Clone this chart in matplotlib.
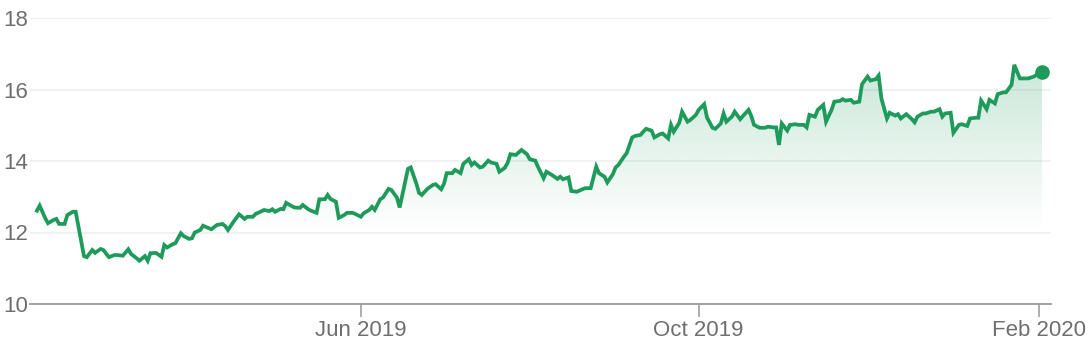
import numpy as np
import pandas as pd
import matplotlib
matplotlib.use('Agg')
import matplotlib.pyplot as plt
import matplotlib.dates as mdates
from matplotlib.colors import to_rgb

# odectene hodnoty z grafu
datumy = [
    '2019-02-04', '2019-02-05', '2019-02-07', '2019-02-08', '2019-02-10', '2019-02-11', '2019-02-12',
    '2019-02-14', '2019-02-15', '2019-02-17', '2019-02-18', '2019-02-21', '2019-02-22', '2019-02-24',
    '2019-02-25', '2019-02-27', '2019-02-28', '2019-03-02', '2019-03-04', '2019-03-05', '2019-03-07',
    '2019-03-09', '2019-03-10', '2019-03-12', '2019-03-13', '2019-03-15', '2019-03-16', '2019-03-17',
    '2019-03-19', '2019-03-21', '2019-03-22', '2019-03-23', '2019-03-25', '2019-03-26', '2019-03-28',
    '2019-03-29', '2019-03-31', '2019-04-01', '2019-04-02', '2019-04-04', '2019-04-05', '2019-04-08',
    '2019-04-10', '2019-04-12', '2019-04-13', '2019-04-14', '2019-04-16', '2019-04-18', '2019-04-20',
    '2019-04-21', '2019-04-23', '2019-04-24', '2019-04-26', '2019-04-27', '2019-04-29', '2019-04-30',
    '2019-05-01', '2019-05-03', '2019-05-04', '2019-05-05', '2019-05-07', '2019-05-08', '2019-05-10',
    '2019-05-11', '2019-05-13', '2019-05-14', '2019-05-16', '2019-05-17', '2019-05-19', '2019-05-20',
    '2019-05-21', '2019-05-23', '2019-05-24', '2019-05-26', '2019-05-27', '2019-05-29', '2019-05-30',
    '2019-06-01', '2019-06-02', '2019-06-04', '2019-06-05', '2019-06-06', '2019-06-08', '2019-06-09',
    '2019-06-11', '2019-06-12', '2019-06-14', '2019-06-15', '2019-06-18', '2019-06-19', '2019-06-21',
    '2019-06-22', '2019-06-23', '2019-06-25', '2019-06-27', '2019-06-28', '2019-06-30', '2019-07-01',
    '2019-07-02', '2019-07-04', '2019-07-05', '2019-07-07', '2019-07-08', '2019-07-10', '2019-07-11',
    '2019-07-12', '2019-07-14', '2019-07-15', '2019-07-17', '2019-07-18', '2019-07-20', '2019-07-21',
    '2019-07-23', '2019-07-24', '2019-07-25', '2019-07-27', '2019-07-28', '2019-07-29', '2019-07-31',
    '2019-08-01', '2019-08-03', '2019-08-04', '2019-08-06', '2019-08-07', '2019-08-09', '2019-08-11',
    '2019-08-12', '2019-08-13', '2019-08-15', '2019-08-16', '2019-08-18', '2019-08-20', '2019-08-21',
    '2019-08-23', '2019-08-25', '2019-08-26', '2019-08-28', '2019-08-29', '2019-08-31', '2019-09-01',
    '2019-09-02', '2019-09-04', '2019-09-05', '2019-09-07', '2019-09-08', '2019-09-10', '2019-09-11',
    '2019-09-12', '2019-09-14', '2019-09-15', '2019-09-17', '2019-09-18', '2019-09-20', '2019-09-21',
    '2019-09-22', '2019-09-24', '2019-09-25', '2019-09-27', '2019-09-28', '2019-09-30', '2019-10-01',
    '2019-10-03', '2019-10-04', '2019-10-06', '2019-10-07', '2019-10-09', '2019-10-10', '2019-10-11',
    '2019-10-13', '2019-10-14', '2019-10-16', '2019-10-17', '2019-10-19', '2019-10-20', '2019-10-21',
    '2019-10-23', '2019-10-25', '2019-10-26', '2019-10-28', '2019-10-29', '2019-10-30', '2019-10-31',
    '2019-11-02', '2019-11-03', '2019-11-05', '2019-11-06', '2019-11-08', '2019-11-09', '2019-11-10',
    '2019-11-12', '2019-11-13', '2019-11-15', '2019-11-16', '2019-11-18', '2019-11-19', '2019-11-21',
    '2019-11-22', '2019-11-23', '2019-11-25', '2019-11-26', '2019-11-28', '2019-11-29', '2019-12-01',
    '2019-12-02', '2019-12-04', '2019-12-05', '2019-12-06', '2019-12-08', '2019-12-09', '2019-12-11',
    '2019-12-12', '2019-12-13', '2019-12-15', '2019-12-17', '2019-12-18', '2019-12-19', '2019-12-21',
    '2019-12-22', '2019-12-24', '2019-12-25', '2019-12-27', '2019-12-28', '2019-12-29', '2019-12-31',
    '2020-01-01', '2020-01-03', '2020-01-04', '2020-01-06', '2020-01-07', '2020-01-09', '2020-01-10',
    '2020-01-11', '2020-01-13', '2020-01-14', '2020-01-16', '2020-01-17', '2020-01-19', '2020-01-20',
    '2020-01-22', '2020-01-23', '2020-01-25', '2020-01-26', '2020-01-28', '2020-01-30', '2020-02-01',
    '2020-02-02',
]
ceny = [
    12.61, 12.75, 12.40, 12.26, 12.35, 12.38, 12.24,
    12.24, 12.49, 12.58, 12.58, 11.34, 11.31, 11.51,
    11.43, 11.54, 11.51, 11.31, 11.37, 11.37, 11.35,
    11.53, 11.40, 11.28, 11.21, 11.34, 11.21, 11.42,
    11.43, 11.32, 11.65, 11.58, 11.67, 11.70, 11.98,
    11.90, 11.82, 11.84, 12.00, 12.07, 12.19, 12.09,
    12.21, 12.24, 12.18, 12.07, 12.30, 12.51, 12.38,
    12.44, 12.44, 12.52, 12.59, 12.63, 12.60, 12.65,
    12.58, 12.66, 12.65, 12.83, 12.74, 12.70, 12.69,
    12.77, 12.65, 12.61, 12.55, 12.93, 12.93, 13.05,
    12.94, 12.86, 12.41, 12.49, 12.55, 12.55, 12.52,
    12.44, 12.54, 12.63, 12.72, 12.63, 12.93, 12.98,
    13.22, 13.19, 12.98, 12.70, 13.78, 13.82, 13.38,
    13.11, 13.05, 13.22, 13.33, 13.35, 13.21, 13.36,
    13.66, 13.66, 13.75, 13.66, 13.92, 14.05, 13.89,
    13.96, 13.82, 13.84, 14.01, 13.96, 13.92, 13.70,
    13.81, 13.95, 14.19, 14.17, 14.24, 14.31, 14.19,
    14.05, 14.01, 13.83, 13.52, 13.70, 13.61, 13.50,
    13.56, 13.49, 13.54, 13.16, 13.14, 13.21, 13.24,
    13.24, 13.84, 13.66, 13.56, 13.40, 13.63, 13.82,
    13.89, 14.12, 14.22, 14.66, 14.70, 14.73, 14.82,
    14.90, 14.85, 14.66, 14.75, 14.77, 14.63, 15.01,
    14.82, 15.07, 15.38, 15.10, 15.15, 15.29, 15.43,
    15.59, 15.22, 14.93, 14.90, 15.05, 15.33, 15.10,
    15.24, 15.38, 15.17, 15.26, 15.43, 15.26, 15.01,
    14.93, 14.93, 14.96, 14.94, 14.94, 14.45, 15.05,
    14.85, 15.01, 15.03, 15.01, 15.01, 14.94, 15.29,
    15.24, 15.43, 15.57, 15.10, 15.43, 15.66, 15.68,
    15.73, 15.69, 15.71, 15.63, 15.66, 16.15, 16.36,
    16.25, 16.29, 16.39, 15.75, 15.19, 15.35, 15.27,
    15.31, 15.19, 15.31, 15.17, 15.08, 15.24, 15.33,
    15.33, 15.38, 15.38, 15.45, 15.24, 15.33, 15.35,
    14.79, 15.01, 15.03, 14.98, 15.19, 15.21, 15.21,
    15.69, 15.45, 15.71, 15.61, 15.87, 15.92, 15.92,
    16.13, 16.69, 16.31, 16.31, 16.31, 16.36, 16.45,
    16.50,
]
ytiky = [10, 12, 14, 16, 18]
xtiky = ['2019-06-01', '2019-10-01', '2020-02-01']
xpopisky = ['Jun 2019', 'Oct 2019', 'Feb 2020']

zelena = '#1e9b5a'
seda = '#6f6f6f'

plt.rcParams['font.family'] = ['Liberation Sans', 'DejaVu Sans']

x = mdates.date2num(pd.to_datetime(datumy))
y = np.array(ceny)

fig = plt.figure(figsize=(10.92, 3.46), dpi=100)
ax = fig.add_axes([30 / 1092, 42 / 346, 1021 / 1092, 286 / 346])

ax.set_ylim(10, 18)
ax.set_xlim(mdates.date2num(pd.Timestamp('2019-02-01 12:00')),
            mdates.date2num(pd.Timestamp('2020-02-05 06:00')))

# gradientni vypln pod krivkou
poly = ax.fill_between(x, y, 10, color='none', lw=0)
r, g, b = to_rgb(zelena)
n = 256
alfa = np.clip((np.linspace(17.0, 10.0, n) - 12.0) / (17.0 - 12.0), 0, 1) * 0.25
grad = np.zeros((n, 1, 4))
grad[:, 0, 0] = r
grad[:, 0, 1] = g
grad[:, 0, 2] = b
grad[:, 0, 3] = alfa
im = ax.imshow(grad, extent=[x[0], x[-1], 10, 17.0], aspect='auto', origin='upper', zorder=1)
path = poly.get_paths()[0]
im.set_clip_path(path, transform=ax.transData)

ax.plot(x, y, color=zelena, lw=2.7, zorder=3, solid_joinstyle='miter')
ax.plot(x[-1], y[-1], 'o', color=zelena, ms=9.5, zorder=4, clip_on=False)

ax.set_yticks(ytiky)
ax.set_yticklabels([str(t) for t in ytiky])
ax.set_xticks(mdates.date2num(pd.to_datetime(xtiky)))
ax.set_xticklabels(xpopisky)

ax.grid(axis='y', color='#f0f0f0', lw=1.3)
ax.set_axisbelow(True)
for s in ['top', 'right', 'left']:
    ax.spines[s].set_visible(False)
ax.spines['bottom'].set_color('#9a9a9a')
ax.spines['bottom'].set_linewidth(1.3)
ax.spines['bottom'].set_zorder(5)

ax.tick_params(axis='y', length=0, pad=1.5, labelsize=16, labelcolor=seda)
ax.tick_params(axis='x', length=9.5, width=1.1, color='#9a9a9a', pad=2,
               labelsize=16, labelcolor=seda)

fig.savefig('out.png', dpi=100)
